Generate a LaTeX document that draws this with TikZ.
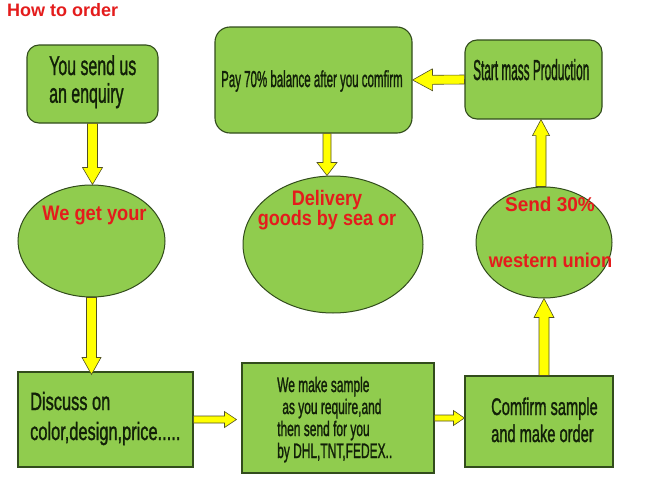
\documentclass[tikz,border=0pt]{standalone}
\usepackage{fontspec}
\setmainfont{Liberation Sans}
\newfontfamily\heavyfont[FakeBold=1.6]{Liberation Sans}
\usepackage{graphicx}
\usetikzlibrary{shapes.geometric,calc}
\definecolor{boxgreen}{RGB}{144,204,78}
\definecolor{boxedge}{RGB}{50,76,28}
\definecolor{txtdark}{RGB}{18,32,8}
\definecolor{txtred}{RGB}{228,28,28}
\definecolor{arrowyellow}{RGB}{255,255,0}
\definecolor{arrowedge}{RGB}{80,80,35}
\newcommand\faw{5pt}\newcommand\fah{10pt}\newcommand\fal{16pt}
\newcommand\sqz[2]{\scalebox{#1}[1]{#2}}
\tikzset{
 rbox/.style={draw=boxedge, fill=boxgreen, line width=1.1pt, rounded corners=12pt, inner sep=0pt},
 sbox/.style={draw=boxedge, fill=boxgreen, line width=1.1pt, inner sep=0pt},
 ebox/.style={ellipse, draw=boxedge, fill=boxgreen, line width=1pt, inner sep=0pt},
 dims/.code args={#1/#2/#3}{\def\faw{#1}\def\fah{#2}\def\fal{#3}},
 fatarrow/.style={fill=arrowyellow, draw=arrowedge, line width=0.6pt, line join=miter,
   to path={let \p1=(\tikztostart), \p2=(\tikztotarget), \n1={atan2(\y2-\y1,\x2-\x1)} in
   -- ($(\p1)+(\n1+90:\faw)$) -- ($(\p2)+(\n1:-\fal)+(\n1+90:\faw)$)
   -- ($(\p2)+(\n1:-\fal)+(\n1+90:\fah)$) -- (\p2)
   -- ($(\p2)+(\n1:-\fal)+(\n1-90:\fah)$) -- ($(\p2)+(\n1:-\fal)+(\n1-90:\faw)$)
   -- ($(\p1)+(\n1-90:\faw)$) -- cycle}},
 dtext/.style={inner sep=0pt, anchor=base west, text=txtdark, font=\heavyfont},
 rtext/.style={inner sep=0pt, anchor=base, text=txtred, font=\bfseries},
}
\begin{document}
\begin{tikzpicture}[x=1pt,y=-1pt]
\useasboundingbox (0,0) rectangle (667,490);
\fill[white] (0,0) rectangle (667,490);

% shapes
\node[rbox, minimum width=131pt, minimum height=78pt] (box1) at (92.5,84) {};
\node[rbox, rounded corners=15pt, minimum width=197pt, minimum height=106pt] (pay) at (313.5,80) {};
\node[rbox, minimum width=137pt, minimum height=79pt] (box5) at (533.5,79.5) {};
\node[ebox, minimum width=147pt, minimum height=112pt] (e1) at (91.5,241) {};
\node[ebox, minimum width=180pt, minimum height=137pt] (e2) at (333,244.5) {};
\node[ebox, minimum width=136pt, minimum height=111pt] (e3) at (544,242.5) {};
\node[sbox, minimum width=175pt, minimum height=95pt] (box2) at (105.5,419.5) {};
\node[sbox, minimum width=192pt, minimum height=110pt] (box3) at (338,418) {};
\node[sbox, minimum width=148pt, minimum height=91pt] (box4) at (539,421.5) {};

% arrow end points
\coordinate (a1e) at (box1.south |- e1.north);
\coordinate (a2e) at ($(e1.south |- box2.north)+(0,3)$);
\coordinate (a3e) at ($(box3.west |- box2.east)+(-5,0)$);
\coordinate (a4e) at (box4.west |- box3.east);
\coordinate (a5s) at (e3.south |- box4.north);
\coordinate (a6s) at ($(e3.north)+(-3,0)$);
\coordinate (a6e) at ($(e3.north |- box5.south)+(-3,0)$);
\coordinate (a8s) at ($(pay.south)+(13.5,0)$);
\coordinate (a8e) at ($(pay.south |- e2.north)+(13.5,0)$);

% arrows
\draw[fatarrow, dims=5pt/10pt/17pt] (box1.south) to (a1e);
\draw[fatarrow, dims=5pt/9.5pt/17pt] (e1.south) to (a2e);
\draw[fatarrow, dims=3.5pt/8pt/12pt] (box2.east) to (a3e);
\draw[fatarrow, dims=3pt/7.5pt/11pt] (box3.east) to (a4e);
\draw[fatarrow, dims=5pt/10pt/19pt] (a5s) to (e3.south);
\draw[fatarrow, dims=5pt/8.5pt/16pt] (a6s) to (a6e);
\draw[fatarrow, dims=4.5pt/11pt/20pt] (box5.west) to (pay.east);
\draw[fatarrow, dims=4pt/10pt/13pt] (a8s) to (a8e);

% texts
\node[inner sep=0pt, anchor=base west, text=txtred, font=\bfseries\fontsize{18}{18}\selectfont] (title) at (7,16) {How to order};
\node[dtext] (t1) at (49,75) {\fontsize{27}{27}\selectfont\sqz{0.59}{\begin{tabular}[t]{@{}l@{}}You send us\\an enquiry\end{tabular}}};
\node[dtext] (t2) at (221,87) {\fontsize{23}{23}\selectfont\sqz{0.5}{Pay 70\% balance after you comfirm}};
\node[dtext] (t3) at (473,80) {\fontsize{29}{29}\selectfont\sqz{0.407}{Start mass Production}};
\node[dtext] (t4) at (30,410) {\fontsize{25}{30}\selectfont\sqz{0.655}{\begin{tabular}[t]{@{}l@{}}Discuss on\\color,design,price.....\end{tabular}}};
\node[dtext] (t5) at (277,392) {\fontsize{21}{22}\selectfont\sqz{0.57}{\begin{tabular}[t]{@{}l@{}}We make sample\\\hspace{9pt}as you require,and\\then send for you\\by DHL,TNT,FEDEX..\end{tabular}}};
\node[dtext] (t6) at (491,415) {\fontsize{24}{27}\selectfont\sqz{0.61}{\begin{tabular}[t]{@{}l@{}}Comfirm sample\\and make order\end{tabular}}};
\node[rtext] (t7) at (94.5,220) {\fontsize{21}{21}\selectfont\sqz{0.87}{We get your}};
\node[rtext] (t8) at (327,205) {\fontsize{21}{16}\selectfont\sqz{0.86}{\begin{tabular}[t]{@{}c@{}}Delivery\\goods by sea or\end{tabular}}};
\node[rtext] (t9) at (550,211) {\fontsize{20}{20}\selectfont\sqz{0.95}{Send 30\%}};
\node[rtext] (t10) at (550.5,267) {\fontsize{20}{20}\selectfont\sqz{0.91}{western union}};
\end{tikzpicture}
\end{document}
